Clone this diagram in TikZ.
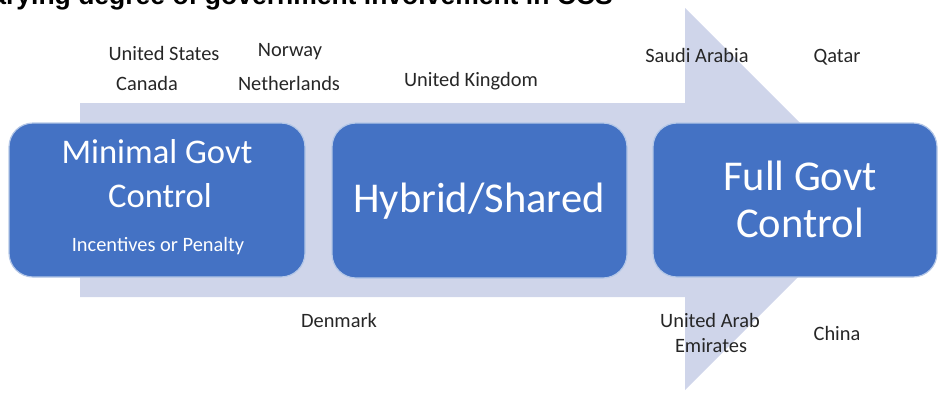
\documentclass[tikz,border=0pt]{standalone}
\usepackage{fontspec}
\setmainfont{Carlito}
\newfontfamily\titlefont{Liberation Sans}
\definecolor{arrowfill}{HTML}{CFD5EA}
\definecolor{boxfill}{HTML}{4472C4}
\definecolor{boxline}{HTML}{B4C7E7}
\definecolor{labelcol}{HTML}{262626}
\begin{document}
\begin{tikzpicture}[x=1pt,y=-1pt,
  govbox/.style={draw=boxline, line width=1.2pt, fill=boxfill, rounded corners=24pt, inner sep=0pt},
  boxtext/.style={text=white, inner sep=0pt, anchor=base},
  bigtext/.style={boxtext, font=\fontsize{34.6}{40}\selectfont},
  hugetext/.style={boxtext, font=\fontsize{42.5}{48}\selectfont},
  smalltext/.style={boxtext, font=\fontsize{20.4}{24}\selectfont},
  country/.style={text=labelcol, inner sep=0pt, anchor=base, font=\fontsize{20.4}{24}\selectfont}]
\useasboundingbox (0,0) rectangle (939,392);
\clip (0,0) rectangle (939,392);
% big background arrow
\coordinate (tail top) at (80,103);
\coordinate (tail bottom) at (80,297);
\coordinate (neck top) at (685,103);
\coordinate (neck bottom) at (685,297);
\coordinate (head top) at (685,8);
\coordinate (head bottom) at (685,390);
\coordinate (tip) at (876,199);
\fill[arrowfill] (tail top) -- (neck top) -- (head top) -- (tip) -- (head bottom) -- (neck bottom) -- (tail bottom) -- cycle;
% title (cropped at the top and left)
\node[anchor=base east, inner sep=0pt, font=\titlefont\bfseries\fontsize{26.5}{30}\selectfont] (title) at (613,4) {Varying degree of government involvement in CCS};
% boxes
\node[govbox, minimum width=296pt, minimum height=154pt] (minimal) at (157,200) {};
\node[govbox, minimum width=295pt, minimum height=155pt] (hybrid) at (479.5,200.5) {};
\node[govbox, minimum width=284pt, minimum height=154pt] (full) at (795,200) {};
% box texts
\node[bigtext] (min1) at (157,163) {Minimal Govt};
\node[bigtext] (min2) at (160,207) {Control};
\node[smalltext] (min3) at (158,251) {Incentives or Penalty};
\node[hugetext] (hyb) at (479,212) {Hybrid/Shared};
\node[hugetext] (full1) at (800,190) {Full Govt};
\node[hugetext] (full2) at (800,237) {Control};
% countries
\node[country] (us) at (164,60) {United States};
\node[country] (ca) at (147,90) {Canada};
\node[country] (no) at (290,56) {Norway};
\node[country] (nl) at (289,90) {Netherlands};
\node[country] (uk) at (471,86) {United Kingdom};
\node[country] (sa) at (697,62) {Saudi Arabia};
\node[country] (qa) at (837,62) {Qatar};
\node[country] (dk) at (339,327) {Denmark};
\node[country] (uae1) at (710,327) {United Arab};
\node[country] (uae2) at (711,352) {Emirates};
\node[country] (cn) at (837,340) {China};
\end{tikzpicture}
\end{document}
